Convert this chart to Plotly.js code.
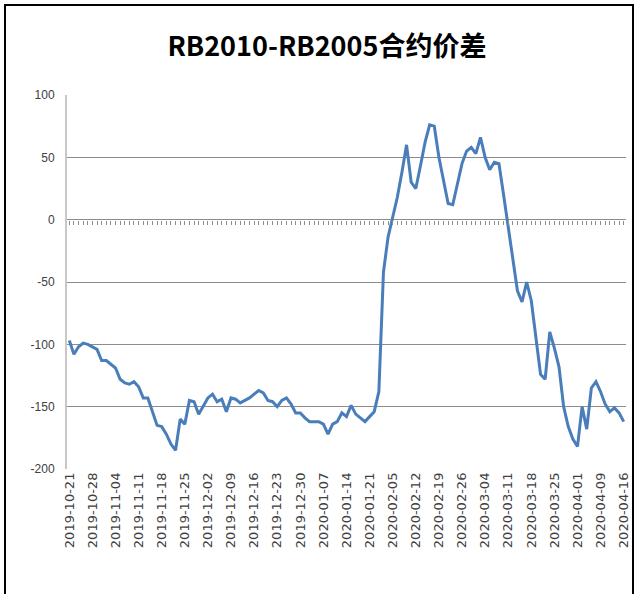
<!DOCTYPE html>
<html>
<head>
<meta charset="utf-8">
<script src="https://cdn.plot.ly/plotly-3.0.1.min.js"></script>
<style>
  html, body { margin: 0; padding: 0; background: #fff; }
  #wrap { position: relative; width: 636px; height: 594px; overflow: hidden; }
  #frame { position: absolute; left: 4px; top: 4px; width: 626px; height: 600px;
           border-left: 2px solid #000; border-top: 2px solid #000; border-right: 2px solid #000;
           pointer-events: none; }
  #chart { position: absolute; left: 0; top: 0; width: 636px; height: 594px; }
</style>
</head>
<body>
<div id="wrap">
  <div id="chart"></div>
  <div id="frame"></div>
</div>
<script>
const dates = [
  "2019-10-21","2019-10-22","2019-10-23","2019-10-24","2019-10-25",
  "2019-10-28","2019-10-29","2019-10-30","2019-10-31","2019-11-01",
  "2019-11-04","2019-11-05","2019-11-06","2019-11-07","2019-11-08",
  "2019-11-11","2019-11-12","2019-11-13","2019-11-14","2019-11-15",
  "2019-11-18","2019-11-19","2019-11-20","2019-11-21","2019-11-22",
  "2019-11-25","2019-11-26","2019-11-27","2019-11-28","2019-11-29",
  "2019-12-02","2019-12-03","2019-12-04","2019-12-05","2019-12-06",
  "2019-12-09","2019-12-10","2019-12-11","2019-12-12","2019-12-13",
  "2019-12-16","2019-12-17","2019-12-18","2019-12-19","2019-12-20",
  "2019-12-23","2019-12-24","2019-12-25","2019-12-26","2019-12-27",
  "2019-12-30","2019-12-31","2020-01-02","2020-01-03","2020-01-06",
  "2020-01-07","2020-01-08","2020-01-09","2020-01-10","2020-01-13",
  "2020-01-14","2020-01-15","2020-01-16","2020-01-17","2020-01-20",
  "2020-01-21","2020-01-22","2020-01-23","2020-02-03","2020-02-04",
  "2020-02-05","2020-02-06","2020-02-07","2020-02-10","2020-02-11",
  "2020-02-12","2020-02-13","2020-02-14","2020-02-17","2020-02-18",
  "2020-02-19","2020-02-20","2020-02-21","2020-02-24","2020-02-25",
  "2020-02-26","2020-02-27","2020-02-28","2020-03-02","2020-03-03",
  "2020-03-04","2020-03-05","2020-03-06","2020-03-09","2020-03-10",
  "2020-03-11","2020-03-12","2020-03-13","2020-03-16","2020-03-17",
  "2020-03-18","2020-03-19","2020-03-20","2020-03-23","2020-03-24",
  "2020-03-25","2020-03-26","2020-03-27","2020-03-30","2020-03-31",
  "2020-04-01","2020-04-02","2020-04-03","2020-04-07","2020-04-08",
  "2020-04-09","2020-04-10","2020-04-13","2020-04-14","2020-04-15",
  "2020-04-16"
];

const spread = [
  -97,-108,-102,-99,-100,
  -102,-104,-113,-113,-116,
  -119,-128,-131,-132,-130,
  -134,-143,-143,-155,-165,
  -166,-172,-180,-185,-160,
  -164,-145,-146,-156,-149,
  -143,-140,-146,-144,-154,
  -143,-144,-147,-145,-143,
  -140,-137,-139,-145,-146,
  -150,-145,-143,-148,-155,
  -155,-159,-162,-162,-162,
  -164,-172,-164,-162,-155,
  -158,-149,-156,-159,-162,
  -158,-154,-138,-42,-14,
  3,18,38,60,30,
  25,43,62,76,75,
  50,30,13,12,28,
  45,55,58,53,66,
  50,40,46,45,20,
  -6,-30,-57,-66,-50,
  -65,-95,-124,-128,-90,
  -103,-118,-150,-166,-176,
  -182,-150,-168,-135,-130,
  -138,-148,-154,-151,-155,
  -162
];

const tickLabels = [
  "2019-10-21","2019-10-28","2019-11-04","2019-11-11","2019-11-18",
  "2019-11-25","2019-12-02","2019-12-09","2019-12-16","2019-12-23",
  "2019-12-30","2020-01-07","2020-01-14","2020-01-21","2020-02-05",
  "2020-02-12","2020-02-19","2020-02-26","2020-03-04","2020-03-11",
  "2020-03-18","2020-03-25","2020-04-01","2020-04-09","2020-04-16"
];

const yTicks = [-200, -150, -100, -50, 0, 50, 100];

const traces = [
  {
    type: 'scatter', mode: 'lines',
    x: dates, y: spread,
    line: { color: '#4a7ebb', width: 3 },
    hoverinfo: 'x+y', showlegend: false
  },
  {
    type: 'scatter', mode: 'markers',
    x: [0], y: [0], xaxis: 'x2', yaxis: 'y',
    marker: { opacity: 0 }, hoverinfo: 'skip', showlegend: false
  }
];

const layout = {
  width: 636, height: 594,
  margin: { l: 67, r: 10, t: 95, b: 125 },
  paper_bgcolor: '#ffffff', plot_bgcolor: '#ffffff',
  title: {
    text: '<b>RB2010-RB2005合约价差</b>',
    font: { family: 'Noto Sans CJK SC, Noto Sans, sans-serif', size: 27, color: '#000' },
    xref: 'container', x: 0.514, xanchor: 'center',
    yref: 'container', y: 0.921, yanchor: 'middle'
  },
  xaxis: {
    type: 'category',
    categoryorder: 'array', categoryarray: dates,
    range: [-0.5, dates.length - 0.5],
    tickmode: 'array', tickvals: tickLabels, ticktext: tickLabels,
    tickangle: -90,
    tickfont: { family: 'DejaVu Sans, sans-serif', size: 13, color: '#404040' },
    showgrid: false, zeroline: false, showline: false, ticks: '',
    automargin: false
  },
  xaxis2: {
    overlaying: 'x', anchor: 'free', position: 2 / 3,
    range: [-0.5, dates.length - 0.5],
    tick0: 0, dtick: 1, ticks: 'outside', ticklen: 4, tickwidth: 1, tickcolor: '#8c8c8c',
    showticklabels: false, showgrid: false, zeroline: false, showline: false
  },
  yaxis: {
    range: [-200, 100],
    tickmode: 'array', tickvals: yTicks, ticktext: yTicks.map(String),
    tickfont: { family: 'Liberation Sans, Arial, sans-serif', size: 12, color: '#404040' },
    showgrid: true, gridcolor: '#8c8c8c', gridwidth: 1,
    zeroline: true, zerolinecolor: '#8c8c8c', zerolinewidth: 1,
    showline: true, linecolor: '#c8c8c8', linewidth: 2,
    ticks: '', ticklabelstandoff: 8,
    automargin: false
  }
};

Plotly.newPlot('chart', traces, layout, { displayModeBar: false, staticPlot: true });
</script>
</body>
</html>
